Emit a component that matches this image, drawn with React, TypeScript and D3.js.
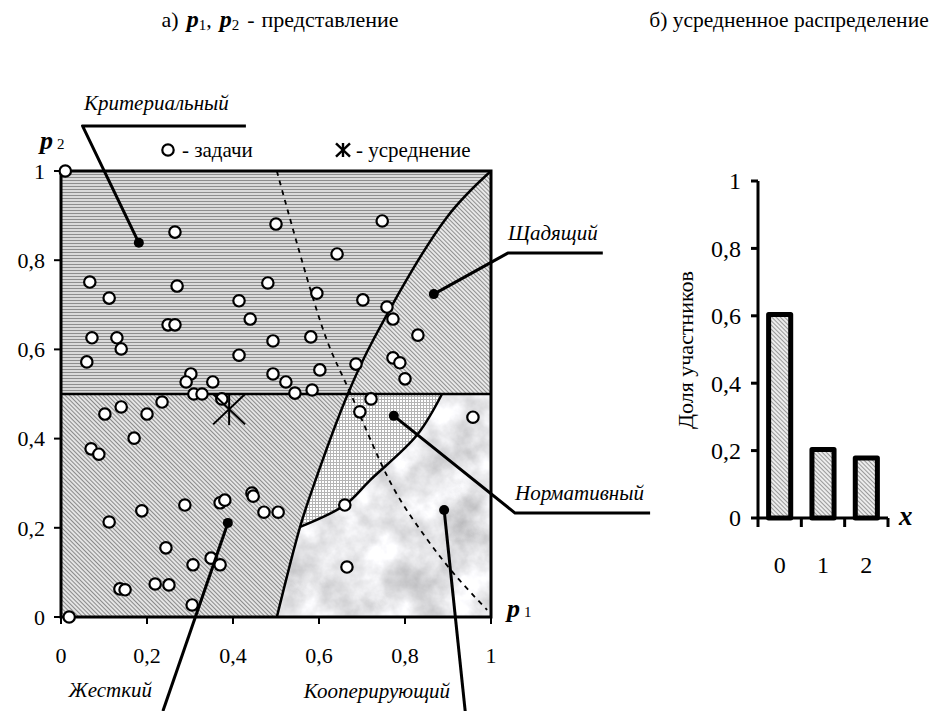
import React from 'react';
import * as d3 from 'd3';

// ---------- data ----------
const axisTicks = [0, 0.2, 0.4, 0.6, 0.8, 1];
const axisTickLabels = ['0', '0,2', '0,4', '0,6', '0,8', '1'];

const taskP1 = [0.01, 0.265, 0.067, 0.112, 0.27, 0.414, 0.44, 0.481, 0.5, 0.249, 0.265, 0.072, 0.13, 0.14, 0.06, 0.414, 0.493, 0.493, 0.302, 0.291, 0.353, 0.309, 0.328, 0.374, 0.235, 0.14, 0.102, 0.2, 0.17, 0.07, 0.088, 0.747, 0.642, 0.595, 0.702, 0.758, 0.772, 0.83, 0.581, 0.523, 0.544, 0.584, 0.602, 0.686, 0.772, 0.788, 0.8, 0.721, 0.695, 0.958, 0.112, 0.188, 0.288, 0.37, 0.381, 0.444, 0.447, 0.472, 0.505, 0.244, 0.307, 0.349, 0.37, 0.137, 0.149, 0.219, 0.251, 0.305, 0.019, 0.66, 0.665];
const taskP2 = [1.0, 0.863, 0.751, 0.715, 0.742, 0.709, 0.668, 0.749, 0.881, 0.655, 0.655, 0.626, 0.626, 0.601, 0.572, 0.587, 0.619, 0.545, 0.545, 0.527, 0.527, 0.5, 0.5, 0.489, 0.482, 0.471, 0.455, 0.455, 0.401, 0.377, 0.365, 0.888, 0.814, 0.726, 0.711, 0.695, 0.668, 0.632, 0.628, 0.527, 0.502, 0.509, 0.554, 0.567, 0.581, 0.57, 0.534, 0.489, 0.46, 0.448, 0.213, 0.238, 0.251, 0.256, 0.262, 0.278, 0.271, 0.235, 0.235, 0.155, 0.117, 0.132, 0.117, 0.063, 0.061, 0.074, 0.072, 0.027, 0.0, 0.251, 0.112];

const averageP1 = 0.391;
const averageP2 = 0.466;

const boundaryA_P1 = [0.502, 0.556, 0.584, 0.667, 0.726, 0.898, 1.0];
const boundaryA_P2 = [0.0, 0.202, 0.285, 0.5, 0.621, 0.897, 1.0];
const boundaryB_P1 = [0.556, 0.66, 0.719, 0.828, 0.886];
const boundaryB_P2 = [0.202, 0.251, 0.307, 0.408, 0.5];
const dashedP1 = [0.502, 0.614, 0.674, 0.772, 0.85, 0.92, 0.991];
const dashedP2 = [1.0, 0.632, 0.5, 0.291, 0.176, 0.09, 0.016];

const barCategories = ['0', '1', '2'];
const barValues = [0.604, 0.203, 0.178];

// callouts: label, dot (p1,p2), elbow (p1,p2), end (p1,p2)
const calloutLabels = ['Критериальный', 'Щадящий', 'Нормативный', 'Жесткий', 'Кооперирующий'];
const calloutDots = [[0.181, 0.839], [0.867, 0.724], [0.774, 0.451], [0.388, 0.211], [0.891, 0.24]];
const calloutElbows = [[0.05, 1.101], [1.039, 0.816], [1.056, 0.233], [0.237, -0.211], [0.94, -0.211]];
const calloutEnds = [[0.43, 1.101], [1.26, 0.816], [1.37, 0.233], [0.237, -0.211], [0.94, -0.211]];

// ---------- layout ----------
const W = 929, H = 711;
const FONT = "'Liberation Serif', 'DejaVu Serif', serif";

export default function App() {
  const x = d3.scaleLinear().domain([0, 1]).range([61, 491]);
  const y = d3.scaleLinear().domain([0, 1]).range([617, 171]);

  const yb = d3.scaleLinear().domain([0, 1]).range([518, 181]);
  const xb = d3.scaleBand<string>().domain(barCategories).range([758, 888]);

  const curve = d3.curveCatmullRom.alpha(0.5);
  const line = d3.line<number[]>().x(d => x(d[0])).y(d => y(d[1])).curve(curve);

  const ptsA = boundaryA_P1.map((v, i) => [v, boundaryA_P2[i]]);
  const ptsB = boundaryB_P1.map((v, i) => [v, boundaryB_P2[i]]);
  const ptsD = dashedP1.map((v, i) => [v, dashedP2[i]]);

  const pathA = line(ptsA) as string;
  const pathB = line(ptsB) as string;
  const pathD = line(ptsD) as string;

  const rightA = `${pathA}L${x(1)},${y(0)}Z`;
  const coop = `${pathB}L${x(1)},${y(0.5)}L${x(1)},${y(0)}L${x(0.45)},${y(0)}L${x(0.45)},${y(0.202)}Z`;

  const axisW = 3;
  const tickLen = 7;

  const star = (cx: number, cy: number, s: number, sw: number) => (
    <g stroke="#000" strokeWidth={sw} strokeLinecap="butt">
      <line x1={cx} y1={cy - s} x2={cx} y2={cy + s} />
      <line x1={cx - s} y1={cy - s * 0.95} x2={cx + s} y2={cy + s * 0.95} />
      <line x1={cx - s} y1={cy + s * 0.95} x2={cx + s} y2={cy - s * 0.95} />
    </g>
  );

  const bw = xb.bandwidth() * 0.51;
  const tx = { fontFamily: FONT } as React.CSSProperties;
  const calloutFont = 21;

  return (
    <svg width={W} height={H} style={{ position: 'absolute', left: 0, top: 0, background: '#fff', fontFamily: FONT }}>
      <defs>
        <pattern id="stripesH" patternUnits="userSpaceOnUse" width={6} height={3}>
          <rect width={6} height={3} fill="#dadada" />
          <rect width={6} height={1} fill="#8e8e8e" />
        </pattern>
        <pattern id="hatchJ" patternUnits="userSpaceOnUse" width={3} height={3} patternTransform="rotate(-45)">
          <rect width={3} height={3} fill="#e4e4e4" />
          <rect width={1} height={3} fill="#8a8a8a" />
        </pattern>
        <pattern id="hatchS" patternUnits="userSpaceOnUse" width={3} height={3} patternTransform="rotate(-45)">
          <rect width={3} height={3} fill="#e8e8e8" />
          <rect width={1} height={3} fill="#909090" />
        </pattern>
        <pattern id="grid" patternUnits="userSpaceOnUse" width={3} height={3}>
          <rect width={3} height={3} fill="#ffffff" />
          <rect width={3} height={1} fill="#b4b4b4" />
          <rect width={1} height={3} fill="#b4b4b4" />
        </pattern>
        <pattern id="hatchBar" patternUnits="userSpaceOnUse" width={3} height={3} patternTransform="rotate(-45)">
          <rect width={3} height={3} fill="#ececec" />
          <rect width={1} height={3} fill="#9a9a9a" />
        </pattern>
        <filter id="marble" filterUnits="userSpaceOnUse" colorInterpolationFilters="sRGB"
          x={x(0)} y={y(1)} width={x(1) - x(0)} height={y(0) - y(1)}>
          <feTurbulence type="fractalNoise" baseFrequency="0.025" numOctaves={5} seed={7} result="n" />
          <feColorMatrix in="n" type="matrix"
            values="-0.5 0 0 0 1.15  -0.5 0 0 0 1.15  -0.5 0 0 0 1.16  0 0 0 0 1" />
        </filter>
        <clipPath id="upperClip">
          <rect x={x(0)} y={y(1)} width={x(1) - x(0)} height={y(0.5) - y(1)} />
        </clipPath>
        <clipPath id="lowerClip">
          <rect x={x(0)} y={y(0.5)} width={x(1) - x(0)} height={y(0) - y(0.5)} />
        </clipPath>
        <clipPath id="rightAClip">
          <path d={rightA} />
        </clipPath>
        <clipPath id="coopClip">
          <path d={coop} />
        </clipPath>
      </defs>

      {/* titles */}
      <text x={280} y={27} fontSize={22} textAnchor="middle" style={tx}>
        <tspan>а)</tspan>
        <tspan fontWeight="bold" fontStyle="italic" fontSize={24} dx={8}>p</tspan>
        <tspan fontSize={15} dy={3}>1</tspan>
        <tspan dy={-3}>,</tspan>
        <tspan fontWeight="bold" fontStyle="italic" fontSize={24} dx={8}>p</tspan>
        <tspan fontSize={15} dy={3}>2</tspan>
        <tspan dy={-3} dx={8}>-</tspan>
        <tspan dx={7}>представление</tspan>
      </text>
      <text x={789} y={27} fontSize={21.5} textAnchor="middle" style={tx}>б) усредненное распределение</text>

      {/* regions */}
      <rect x={x(0)} y={y(1)} width={x(1) - x(0)} height={y(0.5) - y(1)} fill="url(#stripesH)" />
      <rect x={x(0)} y={y(0.5)} width={x(1) - x(0)} height={y(0) - y(0.5)} fill="url(#hatchJ)" />
      <g clipPath="url(#upperClip)">
        <path d={rightA} fill="url(#hatchS)" />
      </g>
      <g clipPath="url(#lowerClip)">
        <path d={rightA} fill="url(#grid)" />
      </g>
      <g clipPath="url(#rightAClip)">
        <g clipPath="url(#coopClip)">
          <rect x={x(0)} y={y(1)} width={x(1) - x(0)} height={y(0) - y(1)} filter="url(#marble)" />
        </g>
      </g>

      {/* boundaries */}
      <path d={pathA} fill="none" stroke="#000" strokeWidth={2.5} />
      <path d={pathB} fill="none" stroke="#000" strokeWidth={2.5} />
      <path d={pathD} fill="none" stroke="#000" strokeWidth={1.8} strokeDasharray="5,5" />
      <line x1={x(0)} x2={x(1)} y1={y(0.5)} y2={y(0.5)} stroke="#000" strokeWidth={2.5} />

      {/* frame */}
      <rect x={x(0)} y={y(1)} width={x(1) - x(0)} height={y(0) - y(1)} fill="none" stroke="#000" strokeWidth={axisW} />

      {/* axes ticks */}
      {axisTicks.map((t, i) => (
        <g key={'yt' + i}>
          <line x1={x(0) - tickLen} x2={x(0)} y1={y(t)} y2={y(t)} stroke="#000" strokeWidth={2} />
          <text x={45} y={y(t)} dy="0.35em" fontSize={22} textAnchor="end" style={tx}>{axisTickLabels[i]}</text>
        </g>
      ))}
      {axisTicks.map((t, i) => (
        <g key={'xt' + i}>
          <line x1={x(t)} x2={x(t)} y1={y(0)} y2={y(0) + tickLen} stroke="#000" strokeWidth={2} />
          <text x={x(t)} y={663} fontSize={22} textAnchor="middle" style={tx}>{axisTickLabels[i]}</text>
        </g>
      ))}

      {/* axis names */}
      <text x={507} y={617} fontSize={26} style={tx}>
        <tspan fontWeight="bold" fontStyle="italic">p</tspan>
        <tspan fontSize={15} dx={4}>1</tspan>
      </text>
      <text x={40} y={149} fontSize={26} style={tx}>
        <tspan fontWeight="bold" fontStyle="italic">p</tspan>
        <tspan fontSize={15} dx={4}>2</tspan>
      </text>

      {/* legend */}
      <circle cx={168} cy={150} r={5.7} fill="#fff" stroke="#000" strokeWidth={2.2} />
      <text x={182} y={150} dy="0.35em" fontSize={21} style={tx}>- задачи</text>
      {star(343, 150, 7, 2.4)}
      <text x={356} y={150} dy="0.35em" fontSize={21} style={tx}>- усреднение</text>

      {/* tasks */}
      {taskP1.map((p, i) => (
        <circle key={'c' + i} cx={x(p)} cy={y(taskP2[i])} r={5.7} fill="#fff" stroke="#000" strokeWidth={2.2} />
      ))}

      {/* average */}
      {star(x(averageP1), y(averageP2), 16, 2)}

      {/* callouts */}
      {calloutLabels.map((lab, i) => {
        const d = calloutDots[i], e = calloutElbows[i], f = calloutEnds[i];
        return (
          <g key={'co' + i}>
            <polyline points={`${x(d[0])},${y(d[1])} ${x(e[0])},${y(e[1])} ${x(f[0])},${y(f[1])}`}
              fill="none" stroke="#000" strokeWidth={3} strokeLinejoin="round" />
            <circle cx={x(d[0])} cy={y(d[1])} r={5} fill="#000" />
          </g>
        );
      })}
      <text x={84} y={110} fontSize={calloutFont} fontStyle="italic" style={tx}>{calloutLabels[0]}</text>
      <text x={508} y={240} fontSize={calloutFont} fontStyle="italic" style={tx}>{calloutLabels[1]}</text>
      <text x={515} y={500} fontSize={calloutFont} fontStyle="italic" style={tx}>{calloutLabels[2]}</text>
      <text x={152} y={697} fontSize={calloutFont} fontStyle="italic" textAnchor="end" style={tx}>{calloutLabels[3]}</text>
      <text x={450} y={698} fontSize={calloutFont} fontStyle="italic" textAnchor="end" style={tx}>{calloutLabels[4]}</text>

      {/* ---------- bar chart ---------- */}
      {barCategories.map((c, i) => {
        const cx = (xb(c) as number) + xb.bandwidth() / 2;
        return (
          <rect key={'b' + i} x={cx - bw / 2} y={yb(barValues[i])} width={bw} height={yb(0) - yb(barValues[i])}
            fill="url(#hatchBar)" stroke="#000" strokeWidth={5} strokeLinejoin="round" />
        );
      })}
      <line x1={758} x2={758} y1={yb(1)} y2={yb(0)} stroke="#000" strokeWidth={3} />
      <line x1={758} x2={888} y1={yb(0)} y2={yb(0)} stroke="#000" strokeWidth={3} />
      {axisTicks.map((t, i) => (
        <g key={'byt' + i}>
          <line x1={751} x2={758} y1={yb(t)} y2={yb(t)} stroke="#000" strokeWidth={3} />
          <text x={741} y={yb(t)} dy="0.35em" fontSize={24} textAnchor="end" style={tx}>{axisTickLabels[i]}</text>
        </g>
      ))}
      {[...barCategories.map(c => xb(c) as number), 888].map((v, i) => (
        <line key={'bxt' + i} x1={v} x2={v} y1={yb(0)} y2={yb(0) + 9} stroke="#000" strokeWidth={3} />
      ))}
      {barCategories.map((c, i) => (
        <text key={'bxl' + i} x={(xb(c) as number) + xb.bandwidth() / 2} y={573} fontSize={24} textAnchor="middle" style={tx}>{c}</text>
      ))}
      <text x={899} y={525} fontSize={27} fontWeight="bold" fontStyle="italic" style={tx}>x</text>
      <text transform={`translate(693,${350}) rotate(-90)`} fontSize={22} textAnchor="middle" style={tx}>Доля участников</text>
    </svg>
  );
}
